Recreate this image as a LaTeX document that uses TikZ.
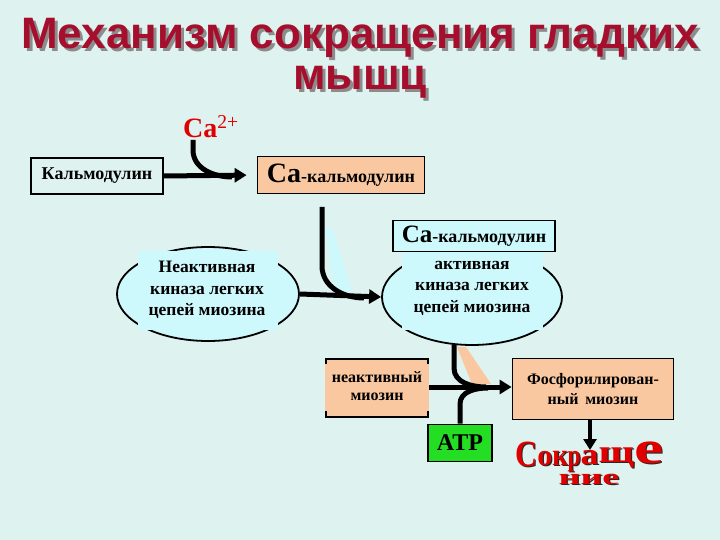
\documentclass[tikz,border=0pt]{standalone}
\usepackage{fontspec}
\setmainfont{Liberation Serif}
\newfontfamily\titlefont{Liberation Sans}
\usetikzlibrary{arrows.meta,shapes.geometric}
\definecolor{bgc}{RGB}{222,242,240}
\definecolor{titlered}{RGB}{165,15,45}
\definecolor{peach}{RGB}{250,200,160}
\definecolor{cyanfill}{RGB}{205,248,252}
\definecolor{atpgreen}{RGB}{35,222,35}
\definecolor{cared}{RGB}{225,0,0}
\newcommand{\fsz}[1]{\fontsize{#1}{#1}\selectfont}
\newcommand{\lt}[4]{\raisebox{#4pt}{\scalebox{#2}[#3]{#1}}}
\newcommand{\wordtext}{\lt{С}{1.53}{1.85}{0}\lt{о}{1.5}{1.5}{1}\lt{к}{1.34}{1.55}{1}\lt{р}{1.16}{1.5}{1}\lt{а}{1.8}{1.5}{2}\lt{щ}{2.1}{1.6}{4}\lt{е}{3.3}{2.3}{3}}
\tikzset{
  arr/.style={line width=5pt,-{Triangle[length=12pt,width=14pt]}},
  conn/.style={line width=5pt},
  box/.style={draw,line width=1.8pt,inner sep=0pt,font=\bfseries\fsz{18}},
  oval/.style={ellipse,draw,line width=1.8pt,fill=cyanfill,inner sep=0pt},
  ovtext/.style={font=\bfseries\fontsize{17.5}{21.5}\selectfont,align=center},
  word/.style={font=\bfseries\fsz{20},text=cared,inner sep=0pt},
  wordsh/.style={font=\bfseries\fsz{20},text=black!85,inner sep=0pt}
}
\begin{document}
\begin{tikzpicture}[x=1pt,y=-1pt]
\fill[bgc] (0,0) rectangle (720,540);
\useasboundingbox (0,0) rectangle (720,540);
% title
\node[font=\titlefont\bfseries\fsz{44},text=black!45] at (363,41) {Механизм сокращения гладких};
\node[font=\titlefont\bfseries\fsz{44},text=titlered] (t1) at (360,38) {Механизм сокращения гладких};
\node[font=\titlefont\bfseries\fsz{44},text=black!45] at (363,85) {мышц};
\node[font=\titlefont\bfseries\fsz{44},text=titlered] (t2) at (360,82) {мышц};
% Ca2+
\node[font=\bfseries\fsz{28},text=cared,inner sep=0pt] (ca) at (211,127) {Ca\textsuperscript{\mdseries 2+}};
% boxes row 1
\node[box,minimum width=132,minimum height=36] (kal) at (97,176) {Кальмодулин};
\node[box,fill=peach,minimum width=167,minimum height=37] (cak) at (341,175) {{\fsz{28}Ca}-кальмодулин};
\coordinate (j1) at (232,177);
\draw[arr,shorten >=10pt] (kal.east) -- (cak.west);
\draw[conn] (193,140) -- (193,150) to[out=-90,in=180] (j1);
% left oval
\node[oval,minimum width=182,minimum height=94] (lov) at (208,294) {};
\fill[cyanfill] (138,251) rectangle (278,330);
\node[ovtext] (lt) at (207,290) {Неактивная\\киназа легких\\цепей миозина};
% right oval
\node[oval,minimum width=180,minimum height=96] (rov) at (472,297) {};
\fill[cyanfill] (402,251) rectangle (543,330);
\node[box,fill=cyanfill,line width=1.5pt,minimum width=162,minimum height=31] (cak2) at (474,236) {{\fsz{25}Ca}-кальмодулин};
\node[ovtext] (rt) at (472,288) {активная\\киназа легких\\цепей миозина};
% arrow oval -> oval
\draw[arr] (lov.east) -- (rov.west);
% line from above with cyan wedge
\fill[cyanfill] (325,228) -- (332,228) -- (352,291) -- (335,291) -- cycle;
\coordinate (v1) at (322,207);
\coordinate (j2) at (364,298);
\draw[conn] (v1) -- (322,266) to[out=-90,in=180] (j2);
% inactive myosin
\node[fill=peach,minimum width=104,minimum height=56,inner sep=0pt] (im) at (377,388) {};
\draw[line width=1.8pt] (326,364) -- (326,359) -- (428,359) -- (428,364);
\draw[line width=1.8pt] (326,411) -- (326,417) -- (428,417) -- (428,411);
\node[font=\bfseries\fontsize{16}{18}\selectfont,align=center] at (377,386) {неактивный\\миозин};
% phosphorylated myosin
\node[box,fill=peach,minimum width=161,minimum height=61,align=center,font=\bfseries\fontsize{16}{20}\selectfont] (pm) at (593,389) {Фосфорилирован-\\ный\, миозин};
\draw[arr] (im.east |- 0,387) -- (pm.west |- 0,387);
% peach wedge and line from right oval
\fill[peach] (457,347) -- (466,347) -- (491,384) -- (472,384) -- cycle;
\coordinate (v2) at (454,345);
\coordinate (j3) at (486,387);
\draw[conn] (v2) -- (454,368) to[out=-90,in=180] (j3);
% ATP
\node[box,fill=atpgreen,minimum width=64,minimum height=37,font=\bfseries\fsz{24}] (atp) at (460,443) {ATP};
\coordinate (j4) at (488,388);
\draw[conn] (atp.north) -- (460,404) to[out=90,in=180] (j4);
% arrow down to word
\coordinate (w0) at (590,450);
\draw[line width=3.5pt,-{Triangle[length=11pt,width=13pt]}] (pm.south -| w0) -- (w0);
% Сокращение
\node[wordsh,anchor=base west] at (516.2,467.2) {\wordtext};
\node[word,anchor=base west] (w1) at (515,466) {\wordtext};
\node[wordsh] at (590.2,480.2) {\scalebox{1.9}[1.1]{ние}};
\node[word] (w2) at (589,479) {\scalebox{1.9}[1.1]{ние}};
\end{tikzpicture}
\end{document}
